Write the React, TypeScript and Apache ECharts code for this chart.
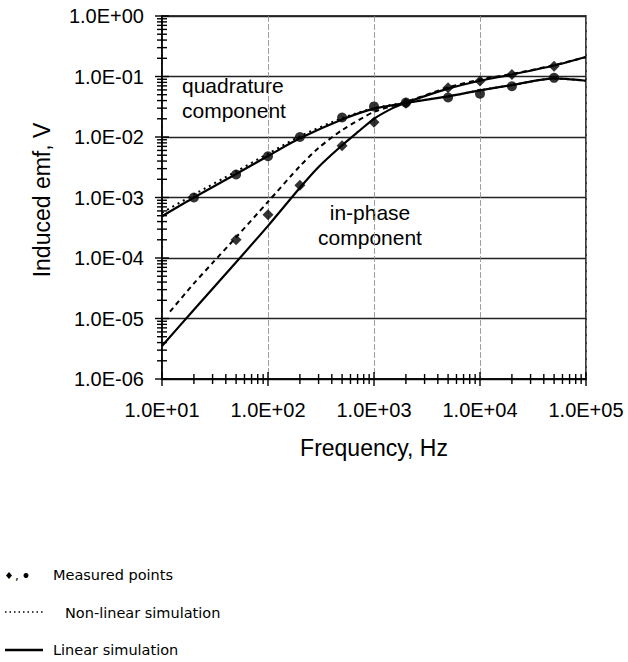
import React, { useEffect, useRef } from "react";
import * as echarts from "echarts";

// Frequencies (Hz) and induced emf (V)
const quadLinear: [number, number][] = [
  [10, 4.9e-4], [20, 1.0e-3], [50, 2.45e-3], [100, 4.85e-3], [200, 9.5e-3],
  [500, 1.95e-2], [1000, 2.95e-2], [2000, 3.65e-2], [5000, 4.7e-2],
  [10000, 5.9e-2], [20000, 7.2e-2], [50000, 9.3e-2], [100000, 8.5e-2],
];
const quadNonLinear: [number, number][] = [
  [10, 5.6e-4], [20, 1.12e-3], [50, 2.7e-3], [100, 5.3e-3], [200, 1.03e-2],
  [500, 2.05e-2], [1000, 3.0e-2], [2000, 3.7e-2], [5000, 4.7e-2],
  [10000, 5.9e-2], [20000, 7.2e-2], [50000, 9.3e-2], [100000, 8.5e-2],
];
const inphaseLinear: [number, number][] = [
  [10, 3.5e-6], [20, 1.4e-5], [50, 8.5e-5], [100, 3.4e-4], [200, 1.45e-3],
  [300, 3.2e-3], [500, 7.3e-3], [700, 1.2e-2], [1000, 2.0e-2], [1500, 3.0e-2],
  [2000, 3.7e-2], [5000, 6.3e-2], [10000, 8.5e-2], [20000, 0.108], [50000, 0.152], [100000, 0.21],
];
const inphaseNonLinear: [number, number][] = [
  [11.9, 1.3e-5], [20, 3.8e-5], [30, 8.3e-5], [50, 2.2e-4], [100, 8.5e-4],
  [200, 3.3e-3], [300, 6.6e-3], [500, 1.3e-2], [1000, 2.6e-2], [2000, 3.8e-2],
  [5000, 6.6e-2], [10000, 8.9e-2], [20000, 0.11], [50000, 0.154], [100000, 0.21],
];
const quadMeasured: [number, number][] = [
  [20, 1.0e-3], [50, 2.4e-3], [100, 4.8e-3], [200, 1.0e-2], [500, 2.1e-2],
  [1000, 3.2e-2], [2000, 3.7e-2], [5000, 4.5e-2], [10000, 5.2e-2],
  [20000, 6.9e-2], [50000, 9.5e-2],
];
const inphaseMeasured: [number, number][] = [
  [50, 2.0e-4], [100, 5.2e-4], [200, 1.6e-3], [500, 7.2e-3], [1000, 1.75e-2],
  [2000, 3.6e-2], [5000, 6.5e-2], [10000, 8.4e-2], [20000, 0.108], [50000, 0.148],
];

const xTickValues = [10, 100, 1000, 10000, 100000];
const xTickLabels = ["1.0E+01", "1.0E+02", "1.0E+03", "1.0E+04", "1.0E+05"];
const yTickValues = [1e-6, 1e-5, 1e-4, 1e-3, 1e-2, 1e-1, 1];
const yTickLabels = ["1.0E-06", "1.0E-05", "1.0E-04", "1.0E-03", "1.0E-02", "1.0E-01", "1.0E+00"];
const minorMultipliers = [2, 3, 4, 5, 6, 7, 8, 9];

const X_MIN = 10, X_MAX = 100000, Y_MIN = 1e-6, Y_MAX = 1;

function labelFor(values: number[], labels: string[]) {
  return (v: number) => {
    const i = values.findIndex((t) => Math.abs(Math.log10(t) - Math.log10(v)) < 1e-6);
    return i >= 0 ? labels[i] : "";
  };
}

const FONT = "Liberation Sans, Arial, sans-serif";
const LEGEND_FONT = "DejaVu Sans, sans-serif";

export default function App() {
  const ref = useRef<HTMLDivElement>(null);
  useEffect(() => {
    if (!ref.current) return;
    const chart = echarts.init(ref.current, undefined, { renderer: "svg" });

    const xTicks: [number, number, number][] = [];
    xTickValues.forEach((d, i) => {
      xTicks.push([d, Y_MIN, 1]);
      if (i < xTickValues.length - 1) minorMultipliers.forEach((m) => xTicks.push([d * m, Y_MIN, 0]));
    });
    const yTicks: [number, number, number][] = [];
    yTickValues.forEach((d, i) => {
      yTicks.push([X_MIN, d, 1]);
      if (i < yTickValues.length - 1) minorMultipliers.forEach((m) => yTicks.push([X_MIN, d * m, 0]));
    });

    const lineBase = { type: "line", showSymbol: false, symbol: "none", smooth: 0.25, z: 3 };

    chart.setOption({
      animation: false,
      grid: { left: 162, top: 16, right: 42, bottom: 283, show: true, borderColor: "#000", borderWidth: 1.5, outerBoundsMode: "none" },
      xAxis: {
        type: "log", logBase: 10, min: X_MIN, max: X_MAX,
        axisLine: { show: true, lineStyle: { color: "#000", width: 1.5 } },
        axisTick: { show: false },
        axisLabel: { formatter: labelFor(xTickValues, xTickLabels), color: "#000", fontSize: 20, fontFamily: FONT, margin: 21 },
        splitLine: { show: true, lineStyle: { color: "#888", width: 0.8, type: [6, 2] } },
      },
      yAxis: {
        type: "log", logBase: 10, min: Y_MIN, max: Y_MAX,
        axisLine: { show: true, lineStyle: { color: "#000", width: 1.5 } },
        axisTick: { show: false },
        axisLabel: { formatter: labelFor(yTickValues, yTickLabels), color: "#000", fontSize: 20, fontFamily: FONT, margin: 18 },
        splitLine: { show: true, lineStyle: { color: "#222", width: 1.3 } },
      },
      series: [
        { ...lineBase, name: "Quadrature linear", data: quadLinear, lineStyle: { color: "#000", width: 2.2 } },
        { ...lineBase, name: "In-phase linear", data: inphaseLinear, lineStyle: { color: "#000", width: 2.2 } },
        { ...lineBase, name: "Quadrature non-linear", data: quadNonLinear, lineStyle: { color: "#000", width: 2, type: [2, 4] } },
        { ...lineBase, name: "In-phase non-linear", data: inphaseNonLinear, lineStyle: { color: "#000", width: 2, type: [5, 4] } },
        { type: "scatter", name: "Quadrature measured", data: quadMeasured, symbol: "circle", symbolSize: 10, itemStyle: { color: "#000" }, z: 4 },
        { type: "scatter", name: "In-phase measured", data: inphaseMeasured, symbol: "diamond", symbolSize: 11, itemStyle: { color: "#000" }, z: 4 },
        {
          type: "custom", name: "xticks", data: xTicks, clip: false, silent: true, z: 5,
          renderItem: (_p: any, api: any) => {
            const pt = api.coord([api.value(0), api.value(1)]);
            const major = api.value(2) === 1;
            const h = major ? 7 : 5;
            return { type: "line", shape: { x1: pt[0], y1: pt[1] - h, x2: pt[0], y2: pt[1] + h }, style: { stroke: "#000", lineWidth: 1.4 } };
          },
        },
        {
          type: "custom", name: "yticks", data: yTicks, clip: false, silent: true, z: 5,
          renderItem: (_p: any, api: any) => {
            const pt = api.coord([api.value(0), api.value(1)]);
            const major = api.value(2) === 1;
            const h = major ? 7 : 5;
            return { type: "line", shape: { x1: pt[0] - h, y1: pt[1], x2: pt[0] + h, y2: pt[1] }, style: { stroke: "#000", lineWidth: 1.4 } };
          },
        },
      ],
      graphic: [
        { type: "text", x: 42, y: 200, rotation: Math.PI / 2, style: { text: "Induced emf, V", fontSize: 23, fontFamily: FONT, fill: "#000", textAlign: "center", textVerticalAlign: "middle" } },
        { type: "text", x: 374, y: 448, style: { text: "Frequency, Hz", fontSize: 23, fontFamily: FONT, fill: "#000", textAlign: "center", textVerticalAlign: "middle" } },
        { type: "text", x: 182, y: 85, style: { text: "quadrature", fontSize: 21, fontFamily: FONT, fill: "#000", textAlign: "left", textVerticalAlign: "middle" } },
        { type: "text", x: 182, y: 110, style: { text: "component", fontSize: 21, fontFamily: FONT, fill: "#000", textAlign: "left", textVerticalAlign: "middle" } },
        { type: "text", x: 370, y: 212, style: { text: "in-phase", fontSize: 21, fontFamily: FONT, fill: "#000", textAlign: "center", textVerticalAlign: "middle" } },
        { type: "text", x: 370, y: 237, style: { text: "component", fontSize: 21, fontFamily: FONT, fill: "#000", textAlign: "center", textVerticalAlign: "middle" } },
        // legend
        { type: "polygon", shape: { points: [[9, 572], [12, 575.5], [9, 579], [6, 575.5]] }, style: { fill: "#000" } },
        { type: "text", x: 15, y: 576, style: { text: ",", fontSize: 12, fontFamily: LEGEND_FONT, fill: "#000", textVerticalAlign: "middle" } },
        { type: "circle", shape: { cx: 26, cy: 575.5, r: 2.5 }, style: { fill: "#000" } },
        { type: "text", x: 53, y: 575, style: { text: "Measured points", fontSize: 14.5, fontFamily: LEGEND_FONT, fill: "#000", textVerticalAlign: "middle" } },
        { type: "line", shape: { x1: 5, y1: 612, x2: 43, y2: 612 }, style: { stroke: "#000", lineWidth: 1.6, lineDash: [1.5, 3] } },
        { type: "text", x: 65, y: 613, style: { text: "Non-linear simulation", fontSize: 14.5, fontFamily: LEGEND_FONT, fill: "#000", textVerticalAlign: "middle" } },
        { type: "line", shape: { x1: 5, y1: 650, x2: 43, y2: 650 }, style: { stroke: "#000", lineWidth: 2.5 } },
        { type: "text", x: 53, y: 650, style: { text: "Linear simulation", fontSize: 14.5, fontFamily: LEGEND_FONT, fill: "#000", textVerticalAlign: "middle" } },
      ],
    });
    return () => chart.dispose();
  }, []);
  return <div ref={ref} style={{ position: "absolute", left: 0, top: 0, width: 628, height: 662, background: "#fff" }} />;
}
